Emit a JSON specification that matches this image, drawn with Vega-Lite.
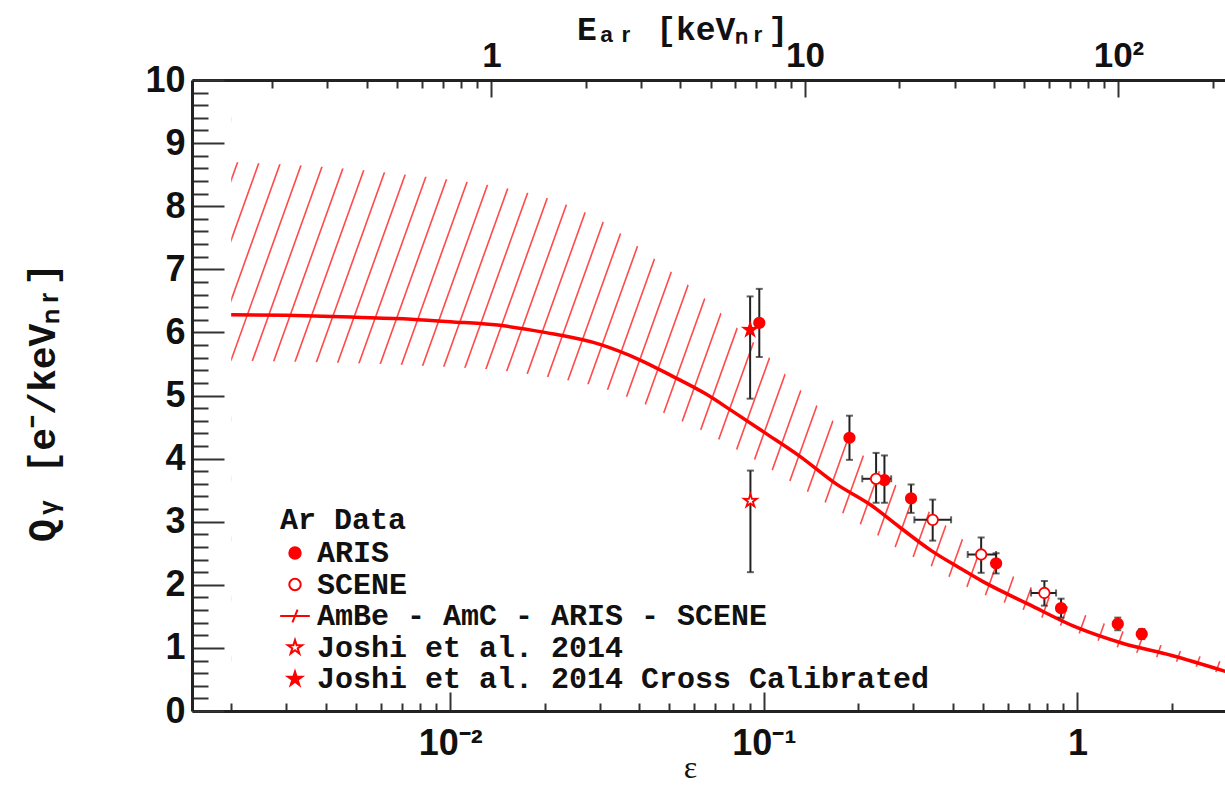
{
  "$schema": "https://vega.github.io/schema/vega-lite/v6.json",
  "width": 1035,
  "height": 631,
  "autosize": {"type": "none"},
  "padding": {"left": 192, "top": 80, "right": 0, "bottom": 74},
  "background": "white",
  "config": {"view": {"stroke": null}},
  "datasets": {
    "hatch": [{"eb":0.0004219,"et":0.002223},{"eb":0.0004941,"et":0.002604},{"eb":0.0005786,"et":0.003049},{"eb":0.0006776,"et":0.003571},{"eb":0.0007934,"et":0.004181},{"eb":0.0009291,"et":0.004896},{"eb":0.001088,"et":0.005734},{"eb":0.001274,"et":0.006715},{"eb":0.001492,"et":0.007864},{"eb":0.001747,"et":0.009209},{"eb":0.002046,"et":0.01078},{"eb":0.002396,"et":0.01263},{"eb":0.002806,"et":0.01479},{"eb":0.003286,"et":0.01732},{"eb":0.003848,"et":0.02028},{"eb":0.004507,"et":0.02375},{"eb":0.005278,"et":0.02781},{"eb":0.006181,"et":0.03257},{"eb":0.007238,"et":0.03814},{"eb":0.008476,"et":0.04467},{"eb":0.009926,"et":0.05231},{"eb":0.01162,"et":0.06126},{"eb":0.01361,"et":0.07174},{"eb":0.01594,"et":0.08401},{"eb":0.01867,"et":0.09838},{"eb":0.02186,"et":0.1152},{"eb":0.0256,"et":0.1349},{"eb":0.02998,"et":0.158},{"eb":0.03511,"et":0.185},{"eb":0.04111,"et":0.2167},{"eb":0.04815,"et":0.2537},{"eb":0.05638,"et":0.2971},{"eb":0.06603,"et":0.348},{"eb":0.07732,"et":0.4075},{"eb":0.09055,"et":0.4772},{"eb":0.106,"et":0.5588},{"eb":0.1242,"et":0.6544},{"eb":0.1454,"et":0.7664},{"eb":0.1703,"et":0.8974},{"eb":0.1994,"et":1.051},{"eb":0.2335,"et":1.231},{"eb":0.2735,"et":1.441},{"eb":0.3203,"et":1.688},{"eb":0.3751,"et":1.977},{"eb":0.4392,"et":2.315},{"eb":0.5143,"et":2.711},{"eb":0.6023,"et":3.174},{"eb":0.7054,"et":3.717},{"eb":0.826,"et":4.353},{"eb":0.9673,"et":5.098},{"eb":1.133,"et":5.97},{"eb":1.327,"et":6.991},{"eb":1.553,"et":8.187},{"eb":1.819,"et":9.587},{"eb":2.13,"et":11.23},{"eb":2.495,"et":13.15},{"eb":2.922,"et":15.4}],
    "band": [{"e":0.002,"q":6.28,"lo":5.55,"hi":8.7},{"e":0.003,"q":6.27,"lo":5.54,"hi":8.66},{"e":0.005,"q":6.24,"lo":5.51,"hi":8.58},{"e":0.0075,"q":6.21,"lo":5.48,"hi":8.49},{"e":0.01,"q":6.17,"lo":5.45,"hi":8.42},{"e":0.015,"q":6.1,"lo":5.39,"hi":8.29},{"e":0.02,"q":6.0,"lo":5.3,"hi":8.14},{"e":0.03,"q":5.81,"lo":5.13,"hi":7.78},{"e":0.04,"q":5.57,"lo":4.9,"hi":7.35},{"e":0.05,"q":5.33,"lo":4.68,"hi":6.98},{"e":0.065,"q":5.03,"lo":4.42,"hi":6.53},{"e":0.08,"q":4.74,"lo":4.17,"hi":6.12},{"e":0.1,"q":4.42,"lo":3.9,"hi":5.69},{"e":0.13,"q":4.04,"lo":3.55,"hi":5.1},{"e":0.17,"q":3.6,"lo":3.2,"hi":4.55},{"e":0.22,"q":3.26,"lo":2.85,"hi":3.92},{"e":0.27,"q":2.92,"lo":2.56,"hi":3.54},{"e":0.34,"q":2.55,"lo":2.3,"hi":3.14},{"e":0.42,"q":2.27,"lo":2.03,"hi":2.76},{"e":0.5,"q":2.05,"lo":1.85,"hi":2.47},{"e":0.7,"q":1.69,"lo":1.57,"hi":1.98},{"e":1.0,"q":1.32,"lo":1.24,"hi":1.58},{"e":1.4,"q":1.07,"lo":0.98,"hi":1.26},{"e":2.0,"q":0.88,"lo":0.8,"hi":0.99},{"e":3.0,"q":0.62,"lo":0.57,"hi":0.76}],
    "cover": [{"e1": 0.0015, "e2": 0.002}],
    "points": [
      {"series":"ARIS","e":0.0967,"q":6.15,"qlo":5.61,"qhi":6.69},
      {"series":"ARIS","e":0.1875,"q":4.33,"qlo":3.98,"qhi":4.68},
      {"series":"ARIS","e":0.2424,"q":3.66,"qlo":3.3,"qhi":4.05},
      {"series":"ARIS","e":0.2948,"q":3.37,"qlo":3.14,"qhi":3.59},
      {"series":"ARIS","e":0.5504,"q":2.34,"qlo":2.18,"qhi":2.5},
      {"series":"ARIS","e":0.887,"q":1.63,"qlo":1.48,"qhi":1.78},
      {"series":"ARIS","e":1.345,"q":1.38,"qlo":1.28,"qhi":1.48},
      {"series":"ARIS","e":1.604,"q":1.22,"qlo":1.14,"qhi":1.3},
      {"series":"SCENE","e":0.228,"q":3.68,"qlo":3.3,"qhi":4.09,"elo":0.206,"ehi":0.2547},
      {"series":"SCENE","e":0.3455,"q":3.03,"qlo":2.7,"qhi":3.35,"elo":0.302,"ehi":0.3955},
      {"series":"SCENE","e":0.4932,"q":2.48,"qlo":2.19,"qhi":2.75,"elo":0.4468,"ehi":0.5504},
      {"series":"SCENE","e":0.7847,"q":1.87,"qlo":1.67,"qhi":2.06,"elo":0.7115,"ehi":0.855},
      {"series":"Joshi et al. 2014","e":0.0906,"q":3.33,"qlo":2.2,"qhi":3.81},
      {"series":"Joshi et al. 2014 Cross Calibrated","e":0.0904,"q":6.04,"qlo":4.95,"qhi":6.57}
    ],
    "topaxis": [{"E": 1}]
  },
  "resolve": {"scale": {"x": "independent"}},
  "layer": [
    {
      "layer": [
        {
          "data": {"name": "hatch"},
          "mark": {"type": "rule", "clip": true, "stroke": "#ff2a2a", "strokeWidth": 1.6, "opacity": 0.85},
          "encoding": {
            "x": {
              "field": "eb", "type": "quantitative",
              "scale": {"type": "log", "domain": [0.0015, 3], "nice": false, "padding": 0},
              "axis": {
                "orient": "bottom",
                "values": [0.002,0.003,0.004,0.005,0.006,0.007,0.008,0.009,0.01,0.02,0.03,0.04,0.05,0.06,0.07,0.08,0.09,0.1,0.2,0.3,0.4,0.5,0.6,0.7,0.8,0.9,1,2,3],
                "tickCount": 1000,
                "labelExpr": "datum.value === 0.01 ? '10⁻²' : datum.value === 0.1 ? '10⁻¹' : datum.value === 1 ? '1' : ''",
                "tickSize": {"condition": {"test": "datum.value === 0.01 || datum.value === 0.1 || datum.value === 1", "value": -19}, "value": -8},
                "labelPadding": {"condition": {"test": "datum.value === 0.01 || datum.value === 0.1 || datum.value === 1", "value": 34}, "value": 23},
                "tickWidth": 2, "tickColor": "#333", "domainWidth": 3, "domainColor": "#222",
                "labelFont": "Liberation Sans", "labelFontWeight": "bold", "labelFontSize": 36, "labelColor": "#111",
                "labelBaseline": "top", "labelOverlap": false, "labelFlush": false,
                "title": "ε", "titleFont": "Liberation Serif", "titleFontSize": 32, "titleFontWeight": "normal", "titleColor": "#111",
                "titleX": 498, "titleY": 66, "titleBaseline": "alphabetic", "titleAlign": "center",
                "grid": false, "zindex": 1
              }
            },
            "x2": {"field": "et"},
            "y": {
              "datum": 0, "type": "quantitative",
              "scale": {"domain": [0, 10], "nice": false, "zero": false, "padding": 0},
              "axis": {
                "orient": "left",
                "values": [0,0.2,0.4,0.6,0.8,1,1.2,1.4,1.6,1.8,2,2.2,2.4,2.6,2.8,3,3.2,3.4,3.6,3.8,4,4.2,4.4,4.6,4.8,5,5.2,5.4,5.6,5.8,6,6.2,6.4,6.6,6.8,7,7.2,7.4,7.6,7.8,8,8.2,8.4,8.6,8.8,9,9.2,9.4,9.6,9.8,10],
                "tickCount": 1000,
                "labelExpr": "datum.value % 1 === 0 ? format(datum.value, 'd') : ''",
                "tickSize": {"condition": {"test": "datum.value % 1 === 0", "value": -32}, "value": -16},
                "labelPadding": {"condition": {"test": "datum.value % 1 === 0", "value": 39}, "value": 23},
                "tickWidth": 2, "tickColor": "#333", "domainWidth": 3, "domainColor": "#222",
                "labelFont": "Liberation Sans", "labelFontWeight": "bold", "labelFontSize": 36, "labelColor": "#111",
                "labelOverlap": false, "labelFlush": false,
                "title": "Qᵧ  [e⁻/keVₙᵣ]", "titleFont": "Liberation Mono", "titleFontSize": 38, "titleFontWeight": "bold", "titleColor": "#111",
                "titleX": -149, "titleY": 322, "titleAngle": -90, "titleAlign": "center", "titleBaseline": "middle",
                "grid": false, "zindex": 1
              }
            },
            "y2": {"datum": 10}
          }
        },
        {
          "data": {"name": "band"},
          "mark": {"type": "area", "fill": "white", "interpolate": "monotone"},
          "encoding": {
            "x": {"field": "e", "type": "quantitative"},
            "y": {"field": "hi", "type": "quantitative"},
            "y2": {"datum": 10}
          }
        },
        {
          "data": {"name": "band"},
          "mark": {"type": "area", "fill": "white", "interpolate": "monotone"},
          "encoding": {
            "x": {"field": "e", "type": "quantitative"},
            "y": {"field": "lo", "type": "quantitative"},
            "y2": {"datum": 0}
          }
        },
        {
          "data": {"name": "cover"},
          "mark": {"type": "rect", "fill": "white"},
          "encoding": {
            "x": {"field": "e1", "type": "quantitative"},
            "x2": {"field": "e2"},
            "y": {"datum": 0, "type": "quantitative"},
            "y2": {"datum": 10}
          }
        },
        {
          "data": {"name": "band"},
          "mark": {"type": "line", "stroke": "#ff0000", "strokeWidth": 3.5, "interpolate": "monotone"},
          "encoding": {
            "x": {"field": "e", "type": "quantitative"},
            "y": {"field": "q", "type": "quantitative"}
          }
        },
        {
          "data": {"name": "points"},
          "mark": {"type": "rule", "stroke": "#222", "strokeWidth": 2},
          "encoding": {
            "x": {"field": "e", "type": "quantitative"},
            "y": {"field": "qlo", "type": "quantitative"},
            "y2": {"field": "qhi"}
          }
        },
        {
          "data": {"name": "points"},
          "mark": {"type": "tick", "orient": "horizontal", "size": 7, "thickness": 2, "color": "#222"},
          "encoding": {
            "x": {"field": "e", "type": "quantitative"},
            "y": {"field": "qlo", "type": "quantitative"}
          }
        },
        {
          "data": {"name": "points"},
          "mark": {"type": "tick", "orient": "horizontal", "size": 7, "thickness": 2, "color": "#222"},
          "encoding": {
            "x": {"field": "e", "type": "quantitative"},
            "y": {"field": "qhi", "type": "quantitative"}
          }
        },
        {
          "data": {"name": "points"},
          "transform": [{"filter": "isValid(datum.elo)"}],
          "mark": {"type": "rule", "stroke": "#222", "strokeWidth": 2},
          "encoding": {
            "x": {"field": "elo", "type": "quantitative"},
            "x2": {"field": "ehi"},
            "y": {"field": "q", "type": "quantitative"}
          }
        },
        {
          "data": {"name": "points"},
          "transform": [{"filter": "isValid(datum.elo)"}],
          "mark": {"type": "tick", "orient": "vertical", "size": 7, "thickness": 2, "color": "#222"},
          "encoding": {
            "x": {"field": "elo", "type": "quantitative"},
            "y": {"field": "q", "type": "quantitative"}
          }
        },
        {
          "data": {"name": "points"},
          "transform": [{"filter": "isValid(datum.elo)"}],
          "mark": {"type": "tick", "orient": "vertical", "size": 7, "thickness": 2, "color": "#222"},
          "encoding": {
            "x": {"field": "ehi", "type": "quantitative"},
            "y": {"field": "q", "type": "quantitative"}
          }
        },
        {
          "data": {"name": "points"},
          "mark": {"type": "point", "strokeWidth": 1.8, "size": 110, "opacity": 1, "fillOpacity": 1, "strokeOpacity": 1},
          "encoding": {
            "x": {"field": "e", "type": "quantitative"},
            "y": {"field": "q", "type": "quantitative"},
            "shape": {
              "field": "series", "type": "nominal",
              "scale": {
                "domain": ["ARIS", "SCENE", "AmBe - AmC - ARIS - SCENE", "Joshi et al. 2014", "Joshi et al. 2014 Cross Calibrated"],
                "range": ["circle", "circle", "M-2.6,0L2.6,0M-0.45,1.1L0.45,-1.1", "M0,-1.3L0.29,-0.4L1.236,-0.402L0.47,0.153L0.764,1.052L0,0.494L-0.764,1.052L-0.47,0.153L-1.236,-0.402L-0.29,-0.4Z", "M0,-1.3L0.29,-0.4L1.236,-0.402L0.47,0.153L0.764,1.052L0,0.494L-0.764,1.052L-0.47,0.153L-1.236,-0.402L-0.29,-0.4Z"]
              },
              "legend": {
                "title": "Ar Data", "orient": "none", "legendX": 88, "legendY": 425,
                "titleFont": "Liberation Mono", "titleFontSize": 30, "titleFontWeight": "bold", "titleColor": "#111", "titlePadding": 3,
                "labelFont": "Liberation Mono", "labelFontSize": 30, "labelFontWeight": "bold", "labelColor": "#111", "labelLimit": 2000,
                "symbolSize": 130, "symbolStrokeColor": "#ff0000", "symbolStrokeWidth": 2, "rowPadding": 1.5, "labelOffset": 7, "padding": 0
              }
            },
            "fill": {
              "field": "series", "type": "nominal",
              "scale": {
                "domain": ["ARIS", "SCENE", "AmBe - AmC - ARIS - SCENE", "Joshi et al. 2014", "Joshi et al. 2014 Cross Calibrated"],
                "range": ["#ff0000", "#ffffff", "transparent", "#ffffff", "#ff0000"]
              },
              "legend": {
                "title": "Ar Data", "orient": "none", "legendX": 88, "legendY": 425,
                "titleFont": "Liberation Mono", "titleFontSize": 30, "titleFontWeight": "bold", "titleColor": "#111", "titlePadding": 3,
                "labelFont": "Liberation Mono", "labelFontSize": 30, "labelFontWeight": "bold", "labelColor": "#111", "labelLimit": 2000,
                "symbolSize": 130, "symbolStrokeColor": "#ff0000", "symbolStrokeWidth": 2, "rowPadding": 1.5, "labelOffset": 7, "padding": 0
              }
            },
            "stroke": {
              "field": "series", "type": "nominal",
              "scale": {
                "domain": ["ARIS", "SCENE", "AmBe - AmC - ARIS - SCENE", "Joshi et al. 2014", "Joshi et al. 2014 Cross Calibrated"],
                "range": ["#ff0000", "#ff0000", "#ff0000", "#ff0000", "#ff0000"]
              },
              "legend": {
                "title": "Ar Data", "orient": "none", "legendX": 88, "legendY": 425,
                "titleFont": "Liberation Mono", "titleFontSize": 30, "titleFontWeight": "bold", "titleColor": "#111", "titlePadding": 3,
                "labelFont": "Liberation Mono", "labelFontSize": 30, "labelFontWeight": "bold", "labelColor": "#111", "labelLimit": 2000,
                "symbolSize": 130, "symbolStrokeColor": "#ff0000", "symbolStrokeWidth": 2, "rowPadding": 1.5, "labelOffset": 7, "padding": 0
              }
            }
          }
        }
      ]
    },
    {
      "data": {"name": "topaxis"},
      "mark": {"type": "rule", "opacity": 0},
      "encoding": {
        "x": {
          "field": "E", "type": "quantitative",
          "scale": {"type": "log", "domain": [0.11095, 221.89], "nice": false, "padding": 0},
          "axis": {
            "orient": "top",
            "values": [0.2,0.3,0.4,0.5,0.6,0.7,0.8,0.9,1,2,3,4,5,6,7,8,9,10,20,30,40,50,60,70,80,90,100,200],
            "tickCount": 1000,
            "labelExpr": "datum.value === 1 ? '1' : datum.value === 10 ? '10' : datum.value === 100 ? '10²' : ''",
            "tickSize": {"condition": {"test": "datum.value === 1 || datum.value === 10 || datum.value === 100", "value": -17}, "value": -8},
            "labelPadding": {"condition": {"test": "datum.value === 1 || datum.value === 10 || datum.value === 100", "value": 24}, "value": 15},
            "tickWidth": 2, "tickColor": "#333", "domainWidth": 3, "domainColor": "#222",
            "labelFont": "Liberation Sans", "labelFontWeight": "bold", "labelFontSize": 35, "labelColor": "#111",
            "labelOverlap": false, "labelFlush": false,
            "title": "Eₐᵣ [keVₙᵣ]", "titleFont": "Liberation Mono", "titleFontSize": 33, "titleFontWeight": "bold", "titleColor": "#111",
            "titleX": 490, "titleY": -41, "titleAlign": "center", "titleBaseline": "alphabetic",
            "grid": false, "zindex": 1
          }
        }
      }
    }
  ]
}
